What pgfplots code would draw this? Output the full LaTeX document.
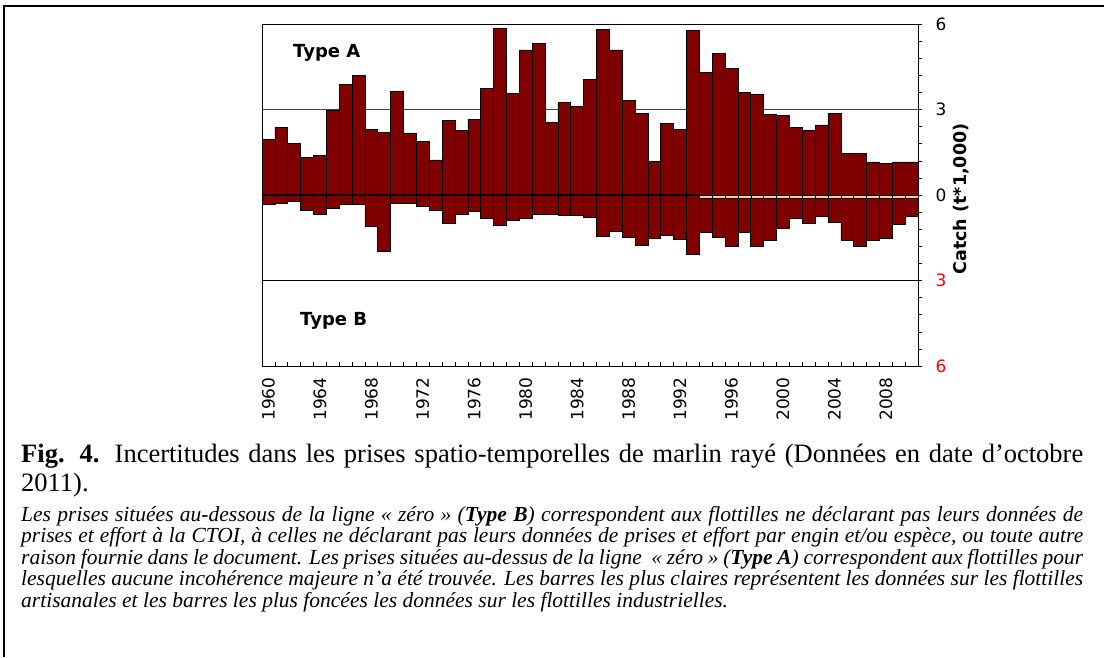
\documentclass[border=0pt]{standalone}
\usepackage{pgfplots}
\usepackage{pgfplotstable}
\pgfplotsset{compat=1.18}
\usepackage{fontspec}
\setmainfont{Liberation Serif}
\newfontfamily\dejavu{DejaVu Sans}
\definecolor{barred}{RGB}{128,0,0}
\definecolor{peach}{RGB}{255,204,153}

\pgfplotstableread{
year a b
1960 1.96 -0.34
1961 2.37 -0.29
1962 1.80 -0.21
1963 1.31 -0.54
1964 1.39 -0.67
1965 2.98 -0.46
1966 3.89 -0.33
1967 4.21 -0.33
1968 2.29 -1.11
1969 2.21 -1.98
1970 3.64 -0.28
1971 2.18 -0.28
1972 1.88 -0.40
1973 1.23 -0.54
1974 2.62 -0.99
1975 2.26 -0.66
1976 2.66 -0.58
1977 3.73 -0.83
1978 5.86 -1.08
1979 3.57 -0.90
1980 5.09 -0.80
1981 5.32 -0.66
1982 2.54 -0.66
1983 3.24 -0.70
1984 3.12 -0.72
1985 4.06 -0.78
1986 5.81 -1.45
1987 5.09 -1.27
1988 3.32 -1.49
1989 2.87 -1.77
1990 1.19 -1.52
1991 2.50 -1.40
1992 2.29 -1.57
1993 5.78 -2.09
1994 4.30 -1.31
1995 4.96 -1.49
1996 4.43 -1.81
1997 3.60 -1.31
1998 3.52 -1.81
1999 2.84 -1.58
2000 2.78 -1.16
2001 2.37 -0.83
2002 2.26 -0.99
2003 2.46 -0.74
2004 2.87 -0.95
2005 1.47 -1.60
2006 1.47 -1.81
2007 1.16 -1.58
2008 1.10 -1.52
2009 1.16 -1.02
2010 1.16 -0.74
}\catchdata

\pgfplotstableread{
year p
1994 -0.10
1995 -0.10
1996 -0.10
1997 -0.10
1998 -0.10
1999 -0.10
2000 -0.10
2001 -0.10
2002 -0.10
2003 -0.10
2004 -0.10
2005 -0.10
2006 -0.10
2007 -0.10
2008 -0.10
2009 -0.10
2010 -0.10
}\artdata

\begin{document}
\begin{tikzpicture}[x=1pt,y=1pt]
\useasboundingbox (0,0) rectangle (1104,-657);
\draw[line width=2pt] (4,-657) -- (4,-6) -- (1104,-6);
\begin{axis}[
  at={(262pt,-366pt)}, anchor=south west,
  scale only axis, width=656pt, height=342pt,
  xmin=1959.5, xmax=2010.5, ymin=-6, ymax=6,
  axis line style={line width=0.8pt},
  xtick={1960,1964,1968,1972,1976,1980,1984,1988,1992,1996,2000,2004,2008},
  xticklabels={1960,1964,1968,1972,1976,1980,1984,1988,1992,1996,2000,2004,2008},
  minor xtick={1959.5,1960.5,1961.5,1962.5,1963.5,1964.5,1965.5,1966.5,1967.5,1968.5,1969.5,1970.5,1971.5,1972.5,1973.5,1974.5,1975.5,1976.5,1977.5,1978.5,1979.5,1980.5,1981.5,1982.5,1983.5,1984.5,1985.5,1986.5,1987.5,1988.5,1989.5,1990.5,1991.5,1992.5,1993.5,1994.5,1995.5,1996.5,1997.5,1998.5,1999.5,2000.5,2001.5,2002.5,2003.5,2004.5,2005.5,2006.5,2007.5,2008.5,2009.5,2010.5},
  major x tick style={draw=none},
  xtick pos=bottom,
  ytick={-6,-3,0,3,6},
  yticklabels={\color{red}6,\color{red}3,0,3,6},
  minor ytick={-5.4,-4.8,-4.2,-3.6,-2.4,-1.8,-1.2,-0.6,0.6,1.2,1.8,2.4,3.6,4.2,4.8,5.4},
  ytick pos=right, yticklabel pos=right,
  tick align=inside,
  major tick length=4pt, minor tick length=4pt,
  every y tick/.append style={xshift=4pt},
  tick style={black, line width=0.6pt},
  yticklabel style={font=\dejavu\fontsize{17}{17}\selectfont, anchor=west, xshift=14pt},
  xticklabel style={font=\dejavu\fontsize{17}{17}\selectfont, rotate=90, anchor=east, xshift=-8pt},
]
\draw[black!75, line width=0.7pt] (axis cs:1959.5,3) -- (axis cs:2010.5,3);
\draw[black, line width=0.9pt] (axis cs:1959.5,-3) -- (axis cs:2010.5,-3);
\addplot[ybar, bar width=1, bar shift=0pt, fill=barred, draw=black, line width=0.6pt] table[x=year, y=a] {\catchdata};
\addplot[ybar, bar width=1, bar shift=0pt, fill=barred, draw=black, line width=0.6pt] table[x=year, y=b] {\catchdata};
\addplot[ybar, bar width=1, bar shift=0pt, fill=peach, draw=black, line width=0.5pt] table[x=year, y=p] {\artdata};
\draw[black, line width=1.4pt] (axis cs:1959.5,0) -- (axis cs:1993.5,0);
\draw[black, line width=0.6pt] (axis cs:1993.5,0) -- (axis cs:2010.5,0);
\end{axis}
\node[anchor=base west, inner sep=0, font=\dejavu\bfseries\fontsize{18}{18}\selectfont] at (293,-57) {Type A};
\node[anchor=base west, inner sep=0, font=\dejavu\bfseries\fontsize{18}{18}\selectfont] at (300,-325) {Type B};
\node[rotate=90, inner sep=0, font=\dejavu\bfseries\fontsize{17.5}{17.5}\selectfont] at (961,-199) {Catch (t*1,000)};
\node[anchor=base west, inner sep=0] at (21,-462) {\fontsize{26.5}{29}\selectfont\makebox[1062pt][s]{\textbf{Fig. 4.} Incertitudes dans les prises spatio-temporelles de marlin rayé (Données en date d’octobre}};
\node[anchor=base west, inner sep=0] at (21,-491) {\fontsize{26.5}{29}\selectfont 2011).};
\begin{scope}[every node/.style={anchor=base west, inner sep=0, font=\itshape\fontsize{21.5}{21.5}\selectfont}]
\node at (21,-521) {\makebox[1062pt][s]{Les prises situées au-dessous de la ligne « zéro » (\textbf{Type B}) correspondent aux flottilles ne déclarant pas leurs données de}};
\node at (21,-542.5) {\makebox[1062pt][s]{prises et effort à la CTOI, à celles ne déclarant pas leurs données de prises et effort par engin et/ou espèce, ou toute autre}};
\node at (21,-564) {\makebox[1062pt][s]{raison fournie dans le document. Les prises situées au-dessus de la ligne \ « zéro » (\textbf{Type A}) correspondent aux flottilles pour}};
\node at (21,-585.5) {\makebox[1062pt][s]{lesquelles aucune incohérence majeure n’a été trouvée. Les barres les plus claires représentent les données sur les flottilles}};
\node at (21,-607) {artisanales et les barres les plus foncées les données sur les flottilles industrielles.};
\end{scope}
\end{tikzpicture}
\end{document}
